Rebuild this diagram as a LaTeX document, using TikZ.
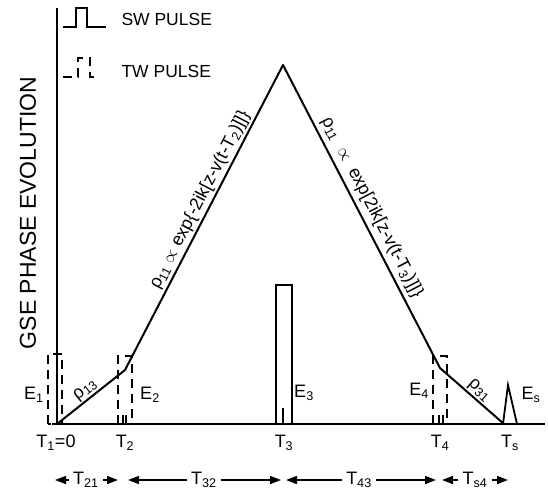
\documentclass[tikz,border=0pt]{standalone}
\usepackage{fontspec}
\setmainfont{Liberation Sans}
\usetikzlibrary{arrows.meta,calc}

\tikzset{
  curve/.style={line width=2pt,line join=round},
  swpulse/.style={line width=1.8pt},
  twpulse/.style={line width=1.8pt,dash pattern=on 9pt off 6pt},
  tick/.style={line width=1.5pt},
  span/.style={line width=1.6pt,-{Triangle[length=11pt,width=8pt]}},
  lbl/.style={font=\fontsize{18}{18}\selectfont,inner sep=1pt},
  frm/.style={font=\fontsize{18}{18}\selectfont,inner sep=1pt,sloped},
}

\begin{document}
\begin{tikzpicture}[x=1pt,y=-1pt]
  \useasboundingbox (0,0) rectangle (548,493);

  % axes
  \coordinate (o) at (57,424);
  \coordinate (ytop) at (57,8);
  \coordinate (xbeg) at (52,424);
  \coordinate (xend) at (545,424);
  \draw[curve] (ytop) -- (o);
  \draw[curve] (xbeg) -- (xend);
  \node[rotate=90,font=\fontsize{23}{23}\selectfont] (ylab) at (28,213) {GSE PHASE EVOLUTION};

  % legend
  \draw[swpulse] (63,27) -- (76,27) -- (76,8) -- (87,8) -- (87,27) -- (106,27);
  \node[right,font=\fontsize{17.5}{17.5}\selectfont] (swl) at (118,19) {SW PULSE};
  \draw[twpulse] (63,77) -- (78,77) -- (78,58) -- (90,58) -- (90,77) -- (99,77);
  \node[right,font=\fontsize{17.5}{17.5}\selectfont] (twl) at (118,71) {TW PULSE};

  % phase evolution
  \coordinate (k2) at (125,370);
  \coordinate (peak) at (283,65);
  \coordinate (k4) at (440,368);
  \coordinate (ks) at (504,424);
  \draw[curve] (o) -- (k2) -- (peak) -- (k4) -- (ks);

  % pulses
  \draw[twpulse] (48,424) rectangle (62,354);
  \draw[twpulse] (118,424) rectangle (132,356);
  \draw[twpulse] (433,424) rectangle (447,356);
  \draw[swpulse] (276,424) rectangle (292,285);
  \draw[swpulse] (503,424) -- (508,385) -- (517,424);
  \foreach \x/\h in {123/9,126/9,283/16,439/9,443/9}
    \draw[tick] (\x,424) -- ++(0,-\h);

  % labels along the curve
  \path (o) -- (k2) node[frm,pos=0.5,above=1pt] (r13) {ρ\textsubscript{13}};
  \path (k4) -- (ks) node[frm,pos=0.52,above=1pt] (r31) {ρ\textsubscript{31}};
  \path (k2) -- (peak) node[frm,pos=0.54,above=2pt] (r11)
    {ρ\textsubscript{11} $\propto$ exp\{-2ik[z-v(t-T\textsubscript{2})]]\}};
  \path (peak) -- (k4) node[frm,pos=0.49,above=4pt] (r11b)
    {ρ\textsubscript{11} \ $\propto$ \ exp[2ik[z-v(t-T\textsubscript{3})]]\}};

  % pulse names
  \foreach \n/\x/\y/\s in {e1/34/395/1, e2/150/395/2, e3/304/393/3, e4/419/391/4, es/531/395/s}
    \node[lbl] (\n) at (\x,\y) {E\textsubscript{\s}};

  % times
  \node[lbl] (t1) at (56,443) {T\textsubscript{1}=0};
  \foreach \n/\x in {2/125,3/284,4/440,s/510}
    \node[lbl] (t\n) at (\x,443) {T\textsubscript{\n}};

  % intervals
  \foreach \n/\xl/\xm/\xr in {21/55/86/118, 32/128/204/281, 43/286/359/436, s4/442/475/508}{
    \coordinate (l\n) at (\xl,480);
    \coordinate (r\n) at (\xr,480);
    \node[lbl,inner sep=4pt] (d\n) at (\xm,480) {T\textsubscript{\n}};
    \draw[span] (d\n) -- (l\n);
    \draw[span] (d\n) -- (r\n);
  }
\end{tikzpicture}
\end{document}
